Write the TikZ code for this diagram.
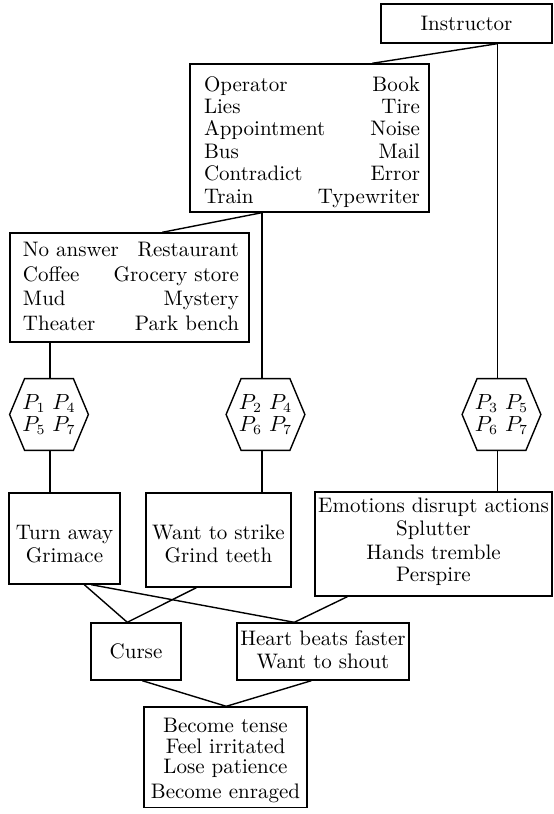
\documentclass[tikz,border=0pt]{standalone}
\usetikzlibrary{calc}

% struts that fix the height of a first line and the depth of a last line
\newcommand\uprule[1]{\rule{0pt}{#1}}
\newcommand\downrule[1]{\rule[-#1]{0pt}{#1}}
% one row with a word flush left and a word flush right
\newcommand\pairrow[2]{\makebox[108pt][s]{#1\hfill#2}}
% six-sided frame around a node
\newcommand\hexoutline[1]{%
  \draw[link] (#1.west) -- ($(#1.north west)+(15,0)$) -- ($(#1.north east)+(-15,0)$)
    -- (#1.east) -- ($(#1.south east)+(-15,0)$) -- ($(#1.south west)+(15,0)$) -- cycle;}

\tikzset{
  link/.style={line width=0.7pt},
  box/.style={draw, line width=0.7pt, inner sep=0pt, align=center,
    font=\fontsize{10.5}{11.5}\selectfont},
  hexnode/.style={inner sep=0pt, minimum width=39pt, minimum height=35.5pt,
    align=center, font=\fontsize{10.5}{11}\selectfont},
}

\begin{document}
\begin{tikzpicture}[x=0.5pt,y=-0.5pt]
\useasboundingbox (0,0) rectangle (553,814);

% top level
\node[box, minimum width=85.5pt, minimum height=19.5pt] (instr) at (466.5,23.5) {Instructor};

\node[box, font=\fontsize{10.5}{11.2}\selectfont, minimum width=119.5pt, minimum height=74pt]
  (words) at (309.5,138) {\begin{tabular}{@{\hspace{7pt}}l@{\hspace{4.5pt}}}
  \uprule{13.5pt}\pairrow{Operator}{Book}\\
  \pairrow{Lies}{Tire}\\
  \pairrow{Appointment}{Noise}\\
  \pairrow{Bus}{Mail}\\
  \pairrow{Contradict}{Error}\\
  \pairrow{Train}{Typewriter}\downrule{4.5pt}
  \end{tabular}};

\node[box, font=\fontsize{10.5}{12.17}\selectfont, minimum width=119.5pt, minimum height=54.5pt]
  (places) at (129.5,287.5) {\begin{tabular}{@{\hspace{6.5pt}}l@{\hspace{5pt}}}
  \uprule{12pt}\pairrow{No answer}{Restaurant}\\
  \pairrow{Coffee}{Grocery store}\\
  \pairrow{Mud}{Mystery}\\
  \pairrow{Theater}{Park bench}\downrule{6pt}
  \end{tabular}};

% hexagons
\node[hexnode] (h1) at (49,414.5) {\uprule{15pt}$P_1$ $P_4$\\$P_5$ $P_7$\downrule{9.5pt}};
\node[hexnode] (h2) at (265.5,414.5) {\uprule{15pt}$P_2$ $P_4$\\$P_6$ $P_7$\downrule{9.5pt}};
\node[hexnode] (h3) at (501.5,414.5) {\uprule{15pt}$P_3$ $P_5$\\$P_6$ $P_7$\downrule{9.5pt}};
\hexoutline{h1}
\hexoutline{h2}
\hexoutline{h3}

% reactions
\node[box, minimum width=55.5pt, minimum height=45.5pt] (tw) at (64.5,538.5)
  {\uprule{23pt}Turn away\\Grimace\downrule{11pt}};
\node[box, minimum width=72.5pt, minimum height=47pt] (ws) at (218.5,540)
  {\uprule{23pt}Want to strike\\Grind teeth\downrule{12.5pt}};
\node[box, minimum width=118.5pt, minimum height=52pt] (em) at (433.5,544)
  {\uprule{10pt}Emotions disrupt actions\\Splutter\\[0.5pt]Hands tremble\\[-0.5pt]Perspire\downrule{7.5pt}};

\node[box, minimum width=45pt, minimum height=28.5pt] (cu) at (136,651.5) {Curse};
\node[box, minimum width=86pt, minimum height=28.5pt] (hb) at (323,651.5)
  {\uprule{11pt}Heart beats faster\\Want to shout\downrule{6pt}};

\node[box, font=\fontsize{10.5}{10.5}\selectfont, minimum width=81.5pt, minimum height=50.25pt]
  (be) at (225.5,757.25)
  {\uprule{12.5pt}Become tense\\Feel irritated\\[-0.5pt]Lose patience\\[2.25pt]Become enraged\downrule{4.5pt}};

% connectors
\coordinate (i3) at ($(instr.south west)+(117,0)$);
\draw[link] (i3) -- ($(words.north west)+(183,0)$);
\draw[link] (i3) -- (i3 |- h3.north);

\coordinate (w2) at ($(words.south west)+(72.5,0)$);
\draw[link] (w2) -- ($(places.north west)+(153,0)$);
\draw[link] (w2) -- (w2 |- h2.north);

\coordinate (p1) at ($(places.south west)+(40.5,0)$);
\draw[link] (p1) -- (p1 |- h1.north);

\draw[link] (p1 |- h1.south) -- (p1 |- tw.north);
\draw[link] (w2 |- h2.south) -- (w2 |- ws.north);
\draw[link] (i3 |- h3.south) -- (i3 |- em.north);

\draw[link] ($(tw.south west)+(76,0)$) -- ($(cu.north west)+(37,0)$);
\draw[link] ($(ws.south west)+(51,0)$) -- ($(cu.north west)+(37,0)$);
\draw[link] ($(tw.south west)+(83,0)$) -- ($(hb.north west)+(58,0)$);
\draw[link] ($(em.south west)+(33,0)$) -- ($(hb.north west)+(58,0)$);

\draw[link] ($(cu.south west)+(52,0)$) -- ($(be.north west)+(83,0)$);
\draw[link] ($(hb.south west)+(75,0)$) -- ($(be.north west)+(83,0)$);
\end{tikzpicture}
\end{document}
